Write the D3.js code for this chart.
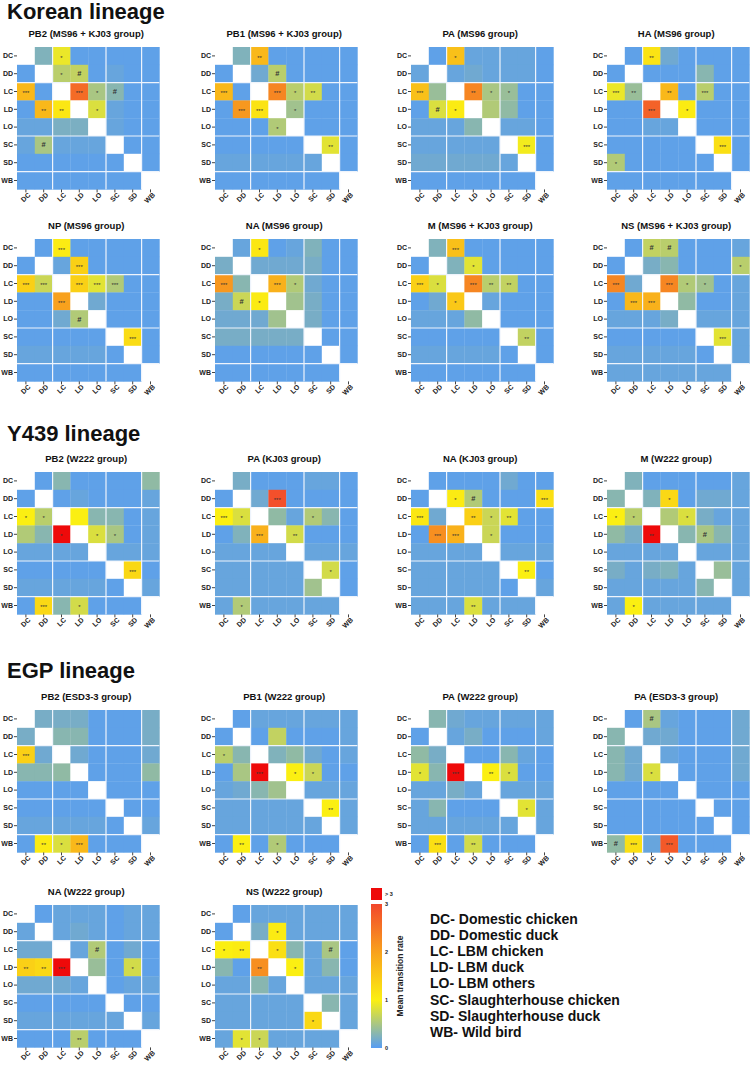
<!DOCTYPE html>
<html>
<head>
<meta charset="utf-8">
<script src="https://cdn.jsdelivr.net/npm/d3@7"></script>
<style>
  body { margin: 0; background: white; }
  svg { display: block; font-family: "Liberation Sans", Arial, sans-serif; }
</style>
</head>
<body>
<div id="main"></div>
<script>
// states used on both axes
const states = ["DC", "DD", "LC", "LD", "LO", "SC", "SD", "WB"]
const legendLines = ["DC- Domestic chicken", "DD- Domestic duck", "LC- LBM chicken", "LD- LBM duck",
  "LO- LBM others", "SC- Slaughterhouse chicken", "SD- Slaughterhouse duck", "WB- Wild bird"]
const colorTicks = [0, 1, 2, 3]

// ---- Korean lineage ----
const korPB2 = [
  [null, .25, .9, .05, .05, .05, .05, .05],
  [.05, null, .6, .65, .05, .1, .05, .05],
  [1.7, .05, null, 2.6, .5, .3, .05, .05],
  [.05, 1.7, 1.1, null, .8, .1, .05, .05],
  [.1, .1, .22, .22, null, .1, .05, .05],
  [.1, .5, .1, .1, .1, null, .05, .05],
  [.05, .05, .05, .05, .05, .05, null, .05],
  [.05, .05, .05, .05, .05, .05, .05, null]]
const korPB2Sig = [["DC", "LC", "*"], ["DD", "LC", "*"], ["DD", "LD", "#"], ["LC", "DC", "***"], ["LC", "LD", "***"],
  ["LC", "LO", "*"], ["LC", "SC", "#"], ["LD", "DD", "**"], ["LD", "LC", "**"], ["LD", "LO", "*"], ["SC", "DD", "#"]]

const korPB1 = [
  [null, .25, 1.7, .05, .05, .05, .05, .05],
  [.05, null, .15, .6, .05, .05, .05, .05],
  [1.7, .05, null, 2.3, .6, .75, .05, .05],
  [.05, 2.1, 1.15, null, .45, .05, .05, .05],
  [.05, .05, .05, .55, null, .05, .05, .05],
  [.05, .05, .05, .05, .05, null, .85, .05],
  [.1, .1, .1, .1, .1, .1, null, .05],
  [.05, .05, .05, .05, .05, .05, .05, null]]
const korPB1Sig = [["DC", "LC", "**"], ["DD", "LD", "#"], ["LC", "DC", "***"], ["LC", "LD", "***"], ["LC", "LO", "*"],
  ["LC", "SC", "**"], ["LD", "DD", "***"], ["LD", "LC", "***"], ["LD", "LO", "*"], ["LO", "LD", "*"], ["SC", "SD", "**"]]

const korPA = [
  [null, .05, 1.6, .1, .1, .1, .1, .05],
  [.1, null, .1, .15, .1, .1, .1, .05],
  [1.6, .4, null, 2.3, .5, .4, .05, .05],
  [.05, .8, 1.05, null, .55, .35, .05, .05],
  [.1, .1, .1, .3, null, .1, .1, .05],
  [.1, .1, .1, .1, .1, null, .95, .05],
  [.15, .15, .15, .15, .15, .1, null, .05],
  [.05, .05, .05, .05, .05, .05, .05, null]]
const korPASig = [["DC", "LC", "*"], ["LC", "DC", "***"], ["LC", "LD", "**"], ["LC", "LO", "*"], ["LC", "SC", "*"],
  ["LD", "DD", "#"], ["LD", "LC", "*"], ["SC", "SD", "***"]]

const korHA = [
  [null, .05, 1.15, .15, .05, .05, .05, .05],
  [.05, null, .05, .05, .05, .3, .05, .05],
  [.9, .4, null, 1.7, .05, .6, .05, .05],
  [.05, .05, 2.7, null, 1.05, .05, .05, .05],
  [.05, .05, .1, .1, null, .05, .05, .05],
  [.05, .05, .05, .05, .05, null, 1.2, .05],
  [.55, .05, .05, .05, .05, .05, null, .05],
  [.05, .05, .05, .05, .05, .05, .05, null]]
const korHASig = [["DC", "LC", "**"], ["LC", "DC", "***"], ["LC", "DD", "**"], ["LC", "LD", "**"], ["LC", "SC", "***"],
  ["LD", "LC", "***"], ["LD", "LO", "*"], ["SC", "SD", "***"], ["SD", "DC", "*"]]

const korNP = [
  [null, .05, 1.05, .05, .05, .05, .05, .05],
  [.05, null, .1, 1.4, .05, .05, .05, .05],
  [1.4, .7, null, 1.4, .85, .55, .05, .05],
  [.05, .05, 2.0, null, .15, .05, .05, .05],
  [.05, .05, .15, .55, null, .05, .05, .05],
  [.05, .05, .05, .05, .05, null, 1.25, .05],
  [.1, .1, .1, .1, .1, .05, null, .05],
  [.05, .05, .05, .05, .05, .05, .05, null]]
const korNPSig = [["DC", "LC", "***"], ["DD", "LD", "***"], ["LC", "DC", "***"], ["LC", "DD", "***"], ["LC", "LD", "***"],
  ["LC", "LO", "***"], ["LC", "SC", "***"], ["LD", "LC", "***"], ["LO", "LD", "#"], ["SC", "SD", "***"]]

const korNA = [
  [null, .1, 1.1, .05, .1, .25, .05, .05],
  [.2, null, .15, .15, .15, .2, .05, .05],
  [2.1, .3, null, 1.8, .55, .15, .05, .05],
  [.2, .7, 1.05, null, .45, .2, .05, .05],
  [.15, .15, .15, .45, null, .2, .05, .05],
  [.2, .2, .2, .2, .2, null, .05, .05],
  [.05, .05, .05, .05, .05, .05, null, .05],
  [.05, .05, .05, .05, .05, .05, .05, null]]
const korNASig = [["DC", "LC", "*"], ["LC", "DC", "***"], ["LC", "LD", "***"], ["LC", "LO", "*"], ["LD", "DD", "#"], ["LD", "LC", "*"]]

const korM = [
  [null, .25, 1.6, .05, .05, .05, .05, .05],
  [.05, null, .25, .85, .05, .05, .05, .05],
  [1.4, .8, null, 2.3, .6, .65, .05, .05],
  [.05, .15, 1.5, null, .1, .05, .05, .05],
  [.1, .1, .1, .35, null, .05, .05, .05],
  [.05, .05, .05, .05, .05, null, .65, .05],
  [.1, .1, .1, .1, .1, .05, null, .05],
  [.05, .05, .05, .05, .05, .05, .05, null]]
const korMSig = [["DC", "LC", "***"], ["DD", "LD", "*"], ["LC", "DC", "***"], ["LC", "DD", "*"], ["LC", "LD", "***"],
  ["LC", "LO", "**"], ["LC", "SC", "**"], ["LD", "LC", "*"], ["SC", "SD", "**"]]

const korNS = [
  [null, .05, .65, .6, .05, .05, .05, .1],
  [.05, null, .2, .3, .05, .05, .05, .6],
  [2.3, .15, null, 2.3, .55, .45, .05, .1],
  [.05, 1.7, 1.8, null, .35, .05, .05, .1],
  [.1, .1, .1, .2, null, .1, .1, .1],
  [.05, .05, .05, .05, .05, null, .85, .1],
  [.1, .1, .1, .1, .1, .05, null, .1],
  [.1, .1, .1, .1, .1, .1, .1, null]]
const korNSSig = [["DC", "LC", "#"], ["DC", "LD", "#"], ["DD", "WB", "*"], ["LC", "DC", "***"], ["LC", "LD", "***"],
  ["LC", "LO", "*"], ["LC", "SC", "*"], ["LD", "DD", "***"], ["LD", "LC", "***"], ["SC", "SD", "***"]]

// ---- Y439 lineage ----
const yPB2 = [
  [null, .05, .3, .05, .05, .05, .05, .35],
  [.05, null, .05, .1, .05, .05, .05, .1],
  [1.0, .6, null, 1.0, .3, .3, .05, .1],
  [.55, .3, 4, null, .8, .5, .05, .1],
  [.1, .1, .1, .1, null, .1, .1, .1],
  [.05, .05, .05, .05, .05, null, 1.3, .05],
  [.1, .1, .1, .1, .1, .05, null, .1],
  [.05, 1.3, .3, .75, .05, .05, .05, null]]
const yPB2Sig = [["LC", "DC", "*"], ["LC", "DD", "*"], ["LD", "LC", "*"], ["LD", "LO", "*"], ["LD", "SC", "*"],
  ["SC", "SD", "***"], ["WB", "DD", "***"], ["WB", "LD", "*"]]

const yPA = [
  [null, .2, .05, .05, .05, .1, .1, .05],
  [.05, null, .15, 2.9, .05, .05, .05, .05],
  [1.0, .8, null, .35, .1, .55, .3, .05],
  [.05, .25, 1.8, null, .75, .05, .05, .05],
  [.1, .1, .1, .1, null, .1, .1, .1],
  [.1, .1, .1, .1, .1, null, .75, .05],
  [.1, .1, .1, .1, .1, .45, null, .05],
  [.1, .55, .1, .1, .1, .1, .1, null]]
const yPASig = [["DD", "LD", "***"], ["LC", "DC", "***"], ["LC", "DD", "*"], ["LC", "SC", "*"], ["LD", "LC", "***"],
  ["LD", "LO", "**"], ["SC", "SD", "*"], ["WB", "DD", "*"]]

const yNA = [
  [null, .05, .05, .05, .05, .15, .05, .05],
  [.05, null, 1.05, .55, .05, .05, .05, 1.2],
  [1.1, .15, null, 1.4, .7, .85, .05, .05],
  [.05, 2.2, 1.8, null, .7, .05, .05, .05],
  [.1, .1, .1, .1, null, .1, .1, .1],
  [.1, .1, .1, .1, .1, null, 1.0, .05],
  [.1, .1, .1, .1, .1, .05, null, .1],
  [.1, .1, .1, .8, .1, .1, .1, null]]
const yNASig = [["DD", "LC", "*"], ["DD", "LD", "#"], ["DD", "WB", "***"], ["LC", "DC", "***"], ["LC", "LD", "**"],
  ["LC", "LO", "*"], ["LC", "SC", "**"], ["LD", "DD", "***"], ["LD", "LC", "***"], ["LD", "LO", "*"],
  ["SC", "SD", "**"], ["WB", "LD", "**"]]

const yM = [
  [null, .25, .05, .05, .05, .05, .05, .1],
  [.3, null, .25, 1.3, .05, .15, .15, .1],
  [1.0, .6, null, .55, .8, .2, .1, .1],
  [.35, .2, 4, null, .3, .5, .3, .1],
  [.1, .1, .1, .1, null, .1, .1, .1],
  [.2, .1, .2, .25, .1, null, .4, .1],
  [.1, .1, .1, .1, .1, .3, null, .1],
  [.1, 1.0, .1, .1, .1, .1, .1, null]]
const yMSig = [["DD", "LD", "*"], ["LC", "DC", "*"], ["LC", "DD", "*"], ["LC", "LO", "*"], ["LD", "LC", "**"],
  ["LD", "SC", "#"], ["WB", "DD", "*"]]

// ---- EGP lineage ----
const ePB2 = [
  [null, .2, .2, .2, .05, .05, .05, .2],
  [.2, null, .3, .3, .05, .05, .05, .2],
  [1.4, .15, null, .15, .05, .05, .05, .15],
  [.3, .3, .35, null, .05, .05, .05, .35],
  [.05, .05, .05, .05, null, .05, .05, .05],
  [.05, .05, .05, .05, .05, null, .05, .05],
  [.1, .1, .1, .1, .1, .05, null, .1],
  [.05, 1.05, .8, 1.7, .05, .05, .05, null]]
const ePB2Sig = [["LC", "DC", "***"], ["WB", "DD", "**"], ["WB", "LC", "*"], ["WB", "LD", "***"]]

const ePB1 = [
  [null, .05, .1, .1, .1, .1, .1, .1],
  [.05, null, .05, .65, .05, .05, .05, .1],
  [.6, .3, null, .25, .35, .15, .05, .1],
  [.05, .5, 4, null, 1.0, .7, .05, .05],
  [.1, .15, .3, .45, null, .1, .1, .1],
  [.1, .1, .1, .1, .1, null, 1.0, .1],
  [.1, .1, .1, .1, .1, .1, null, .1],
  [.05, 1.0, .05, .55, .05, .05, .05, null]]
const ePB1Sig = [["LC", "DC", "*"], ["LD", "LC", "***"], ["LD", "LO", "*"], ["LD", "SC", "*"], ["SC", "SD", "**"],
  ["WB", "DD", "**"], ["WB", "LD", "*"]]

const ePA = [
  [null, .3, .15, .1, .1, .1, .1, .1],
  [.05, null, .1, .2, .05, .05, .05, .1],
  [.35, .2, null, .05, .05, .3, .1, .05],
  [.85, .3, 4, null, 1.0, .8, .05, .05],
  [.1, .1, .2, .1, null, .1, .1, .1],
  [.1, .3, .05, .05, .05, null, .85, .1],
  [.1, .1, .1, .1, .1, .1, null, .1],
  [.05, 1.2, .05, .75, .05, .05, .05, null]]
const ePASig = [["LD", "DC", "*"], ["LD", "LC", "***"], ["LD", "LO", "**"], ["LD", "SC", "*"], ["SC", "SD", "*"],
  ["WB", "DD", "***"], ["WB", "LD", "**"]]

const ePA2 = [
  [null, .05, .5, .1, .05, .05, .05, .15],
  [.3, null, .15, .15, .05, .05, .05, .15],
  [.3, .15, null, .1, .05, .05, .05, .15],
  [.3, .15, .8, null, .05, .05, .05, .15],
  [.05, .05, .05, .05, null, .05, .05, .05],
  [.05, .05, .05, .05, .05, null, .05, .05],
  [.05, .05, .05, .05, .05, .05, null, .05],
  [.35, 1.2, .1, 2.8, .05, .05, .05, null]]
const ePA2Sig = [["DC", "LC", "#"], ["LD", "LC", "*"], ["WB", "DC", "#"], ["WB", "DD", "***"], ["WB", "LD", "***"]]

const eNA = [
  [null, .05, .1, .1, .1, .05, .1, .1],
  [.1, null, .1, .15, .1, .05, .1, .1],
  [.15, .15, null, .1, .55, .05, .15, .05],
  [1.4, 1.3, 4, null, .4, .05, .75, .05],
  [.15, .15, .15, .1, null, .05, .1, .1],
  [.05, .05, .05, .05, .05, null, .05, .05],
  [.1, .1, .1, .1, .1, .1, null, .1],
  [.05, .05, .05, .6, .05, .05, .05, null]]
const eNASig = [["LC", "LO", "#"], ["LD", "DC", "**"], ["LD", "DD", "**"], ["LD", "LC", "***"], ["LD", "SD", "*"], ["WB", "LD", "**"]]

const eNS = [
  [null, .05, .1, .1, .1, .1, .1, .1],
  [.05, null, .2, 1.05, .1, .1, .1, .1],
  [1.0, 1.05, null, 1.2, .3, .1, .5, .05],
  [.3, .05, 2.2, null, 1.0, .1, .3, .05],
  [.1, .1, .3, .1, null, .1, .1, .1],
  [.1, .1, .1, .1, .1, null, .3, .1],
  [.1, .1, .1, .1, .1, 1.3, null, .1],
  [.1, .85, .7, .1, .1, .1, .1, null]]
const eNSSig = [["DD", "LD", "*"], ["LC", "DC", "*"], ["LC", "DD", "**"], ["LC", "LD", "*"], ["LC", "SD", "#"],
  ["LD", "LC", "**"], ["LD", "LO", "*"], ["SD", "SC", "*"], ["WB", "DD", "*"], ["WB", "LC", "*"]]

// ---------------- layout ----------------
let W = 750, H = 1065
let cellTotal = 142.4
let colX = [17, 215, 411, 607]

let panels = [
  { title: "PB2 (MS96 + KJ03 group)", data: korPB2, sig: korPB2Sig, c: 0, top: 47 },
  { title: "PB1 (MS96 + KJ03 group)", data: korPB1, sig: korPB1Sig, c: 1, top: 47 },
  { title: "PA (MS96 group)", data: korPA, sig: korPASig, c: 2, top: 47 },
  { title: "HA (MS96 group)", data: korHA, sig: korHASig, c: 3, top: 47 },
  { title: "NP (MS96 group)", data: korNP, sig: korNPSig, c: 0, top: 239 },
  { title: "NA (MS96 group)", data: korNA, sig: korNASig, c: 1, top: 239 },
  { title: "M (MS96 + KJ03 group)", data: korM, sig: korMSig, c: 2, top: 239 },
  { title: "NS (MS96 + KJ03 group)", data: korNS, sig: korNSSig, c: 3, top: 239 },
  { title: "PB2 (W222 group)", data: yPB2, sig: yPB2Sig, c: 0, top: 472 },
  { title: "PA (KJ03 group)", data: yPA, sig: yPASig, c: 1, top: 472 },
  { title: "NA (KJ03 group)", data: yNA, sig: yNASig, c: 2, top: 472 },
  { title: "M (W222 group)", data: yM, sig: yMSig, c: 3, top: 472 },
  { title: "PB2 (ESD3-3 group)", data: ePB2, sig: ePB2Sig, c: 0, top: 710 },
  { title: "PB1 (W222 group)", data: ePB1, sig: ePB1Sig, c: 1, top: 710 },
  { title: "PA (W222 group)", data: ePA, sig: ePASig, c: 2, top: 710 },
  { title: "PA (ESD3-3 group)", data: ePA2, sig: ePA2Sig, c: 3, top: 710 },
  { title: "NA (W222 group)", data: eNA, sig: eNASig, c: 0, top: 905 },
  { title: "NS (W222 group)", data: eNS, sig: eNSSig, c: 1, top: 905 }
]

let headers = [
  { text: "Korean lineage", y: 19 },
  { text: "Y439 lineage", y: 441 },
  { text: "EGP lineage", y: 678 }
]

// blue -> yellow -> orange -> red, anything above 3 is pure red
let colorSc = d3.scaleLinear()
  .domain(colorTicks)
  .range(["#579df3", "#fbef12", "#f8a11d", "#f2472c"])
  .clamp(true)
let fillFor = v => v > 3 ? "#ee0a0a" : colorSc(v)

let svg = d3.select("#main").append("svg")
  .attr("width", W)
  .attr("height", H)

svg.selectAll("text.header").data(headers).enter().append("text")
  .attr("class", "header")
  .attr("x", 7)
  .attr("y", d => d.y)
  .attr("font-size", 22)
  .attr("font-weight", "bold")
  .attr("fill", "#111")
  .text(d => d.text)

let x = d3.scaleBand().domain(states).range([0, cellTotal])
let y = d3.scaleBand().domain(states).range([0, cellTotal])

panels.forEach(p => {
  let g = svg.append("g").attr("transform", `translate(${colX[p.c]}, ${p.top})`)

  g.append("text")
    .attr("x", cellTotal / 2 - 2)
    .attr("y", -10)
    .attr("text-anchor", "middle")
    .attr("font-size", 9.5)
    .attr("font-weight", "bold")
    .attr("fill", "#111")
    .text(p.title)

  let cells = []
  p.data.forEach((row, i) => row.forEach((v, j) => {
    cells.push({ r: states[i], c: states[j], v: v })
  }))

  g.selectAll("rect").data(cells).enter().append("rect")
    .attr("x", d => x(d.c))
    .attr("y", d => y(d.r))
    .attr("width", x.bandwidth() + 0.3)
    .attr("height", y.bandwidth() + 0.3)
    .attr("fill", d => d.v == null ? "white" : fillFor(d.v))

  // white separators between host groups
  let cuts = ["LC", "SC", "WB"]
  cuts.forEach(s => {
    g.append("line")
      .attr("x1", x(s)).attr("x2", x(s))
      .attr("y1", 0).attr("y2", cellTotal)
      .attr("stroke", "#eef4fc").attr("stroke-width", 1.2)
    g.append("line")
      .attr("x1", 0).attr("x2", cellTotal)
      .attr("y1", y(s)).attr("y2", y(s))
      .attr("stroke", "#eef4fc").attr("stroke-width", 1.2)
  })

  // significance marks
  g.selectAll("text.sig").data(p.sig).enter().append("text")
    .attr("class", "sig")
    .attr("x", d => x(d[1]) + x.bandwidth() / 2)
    .attr("y", d => y(d[0]) + y.bandwidth() / 2 + (d[2] == "#" ? 2.5 : 3.6))
    .attr("text-anchor", "middle")
    .attr("font-size", d => d[2] == "#" ? 7.5 : 6)
    .attr("font-weight", d => d[2] == "#" ? "bold" : "normal")
    .attr("fill", "#333")
    .text(d => d[2])

  let yAx = g.append("g").call(d3.axisLeft(y).tickSize(3).tickPadding(1))
  let xAx = g.append("g").attr("transform", `translate(0, ${cellTotal})`)
    .call(d3.axisBottom(x).tickSize(3).tickPadding(1))
  ;[yAx, xAx].forEach(a => {
    a.select(".domain").remove()
    a.selectAll("line").attr("stroke", "#444")
    a.selectAll("text")
      .attr("font-size", 7)
      .attr("font-weight", "bold")
      .attr("font-family", "Liberation Sans, Arial, sans-serif")
      .attr("fill", "#222")
  })
  xAx.selectAll("text")
    .attr("text-anchor", "end")
    .attr("dx", "-0.1em")
    .attr("dy", "0.55em")
    .attr("transform", "rotate(-45)")
})

// ---- colour bar ----
let cbX = 371, cbW = 11, cbTop = 904, cbBottom = 1048
let cbY = d3.scaleLinear().domain([0, 3]).range([cbBottom, cbTop])
let defs = svg.append("defs")
let grad = defs.append("linearGradient").attr("id", "cbGrad")
  .attr("x1", 0).attr("y1", 1).attr("x2", 0).attr("y2", 0)
d3.range(0, 3.01, 0.25).forEach(v => {
  grad.append("stop").attr("offset", v / 3).attr("stop-color", colorSc(v))
})
svg.append("rect")
  .attr("x", cbX).attr("y", cbTop)
  .attr("width", cbW).attr("height", cbBottom - cbTop)
  .attr("fill", "url(#cbGrad)")
svg.append("rect")
  .attr("x", cbX).attr("y", 888)
  .attr("width", cbW).attr("height", 12)
  .attr("fill", fillFor(4))
svg.append("text")
  .attr("x", cbX + cbW + 3).attr("y", 896)
  .attr("font-size", 5.5).attr("font-weight", "bold").attr("fill", "#222")
  .text("> 3")
let cbAx = svg.append("g").attr("transform", `translate(${cbX + cbW}, 0)`)
  .call(d3.axisRight(cbY).tickValues(colorTicks).tickSize(2).tickPadding(1).tickFormat(d3.format("d")))
cbAx.select(".domain").remove()
cbAx.selectAll("line").attr("stroke", "#fff")
cbAx.selectAll("text").attr("font-size", 5.5).attr("font-weight", "bold").attr("fill", "#222")
  .attr("font-family", "Liberation Sans, Arial, sans-serif")
svg.append("text")
  .attr("transform", `translate(403, ${(cbTop + cbBottom) / 2}) rotate(-90)`)
  .attr("text-anchor", "middle")
  .attr("font-size", 8.5)
  .attr("font-weight", "bold")
  .attr("fill", "#222")
  .text("Mean transition rate")

// ---- state legend ----
svg.selectAll("text.leg").data(legendLines).enter().append("text")
  .attr("class", "leg")
  .attr("x", 430)
  .attr("y", (d, i) => 924 + i * 16.1)
  .attr("font-size", 14)
  .attr("font-weight", "bold")
  .attr("fill", "#111")
  .text(d => d)
</script>
</body>
</html>
